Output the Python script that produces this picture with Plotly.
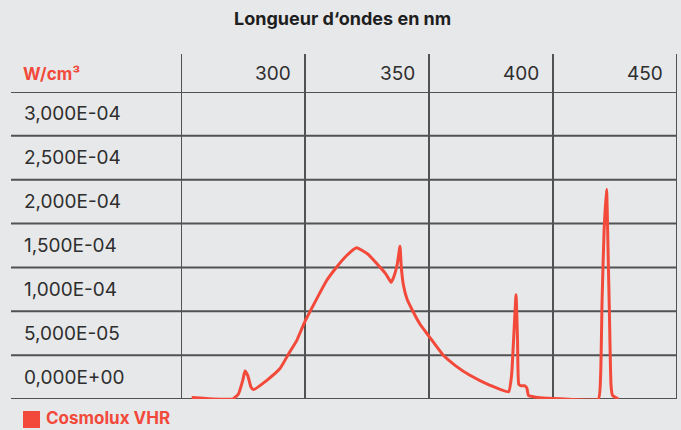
import plotly.graph_objects as go

# ---- data ----
wavelength_nm = [254.3, 262.9, 271.0, 273.1, 274.9, 275.8, 276.9, 278.2, 279.2, 284.6,
                 289.9, 293.3, 296.7, 300.0, 308.8, 312.8, 316.5, 320.8, 325.4, 330.2,
                 332.7, 334.7, 335.9, 337.2, 338.3, 338.8, 339.7, 341.1, 343.5, 346.4,
                 350.0, 355.8, 360.5, 366.5, 374.6, 382.1, 383.3, 384.3, 385.1, 385.7,
                 386.2, 387.1, 388.7, 389.5, 390.1, 394.8, 402.8, 418.3, 419.2, 419.8,
                 420.6, 421.6, 422.2, 422.8, 423.4, 424.0, 426.4]
irradiance = [1.6e-6, 0.0, 0.2e-6, 5.4e-6, 21.3e-6, 31.9e-6, 27.0e-6, 13.7e-6, 10.7e-6, 21.3e-6,
              34.7e-6, 51.0e-6, 66.9e-6, 88.6e-6, 135.3e-6, 150.5e-6, 162.7e-6, 172.4e-6, 165.0e-6, 150.5e-6,
              142.2e-6, 133.0e-6, 140.0e-6, 153.6e-6, 174.1e-6, 151.3e-6, 129.6e-6, 114.2e-6, 100.0e-6, 85.2e-6,
              71.5e-6, 49.8e-6, 38.4e-6, 27.0e-6, 15.6e-6, 8.2e-6, 27.0e-6, 78.3e-6, 118.8e-6, 67.0e-6,
              16.8e-6, 15.0e-6, 15.0e-6, 12.2e-6, 4.2e-6, 1.4e-6, 0.2e-6, 0.0, 27.0e-6, 112.5e-6,
              192.3e-6, 239.0e-6, 169.5e-6, 89.7e-6, 15.6e-6, 4.2e-6, 0.0]

x_grid = [250, 300, 350, 400, 450]
x_tick_labels = ["300", "350", "400", "450"]
x_tick_values = [300, 350, 400, 450]
y_grid = [0, 5e-5, 1e-4, 1.5e-4, 2e-4, 2.5e-4, 3e-4, 3.5e-4]
y_tick_values = [3e-4, 2.5e-4, 2e-4, 1.5e-4, 1e-4, 5e-5, 0]
y_tick_labels = ["3,000E-04", "2,500E-04", "2,000E-04", "1,500E-04",
                 "1,000E-04", "5,000E-05", "0,000E+00"]
series_name = "Cosmolux VHR"
title_text = "Longueur d‘ondes en nm"
unit_text = "W/cm³"

# ---- style ----
BG = "#e7e8ea"
GRID = "#525252"
RED = "#f2493a"
TXT = "#2e2e2e"
FONT = "Inter"

W, H = 681, 430
ML, MR, MT, MB = 181, 4, 92, 31
PW = W - ML - MR
PH = H - MT - MB

def px_x(p):  # pixel -> paper x
    return (p - ML) / PW

def px_y(p):  # pixel -> paper y
    return (H - MB - p) / PH

fig = go.Figure()
fig.add_trace(go.Scatter(
    x=wavelength_nm, y=irradiance, mode="lines",
    line=dict(color=RED, width=3, shape="spline", smoothing=0.4),
    hoverinfo="skip", showlegend=False,
))

shapes = []
for v in y_grid:
    shapes.append(dict(type="line", xref="paper", yref="y", x0=px_x(11), x1=1.0,
                       y0=v, y1=v, line=dict(color=GRID, width=2), layer="below"))
for v in x_grid:
    shapes.append(dict(type="line", xref="x", yref="paper", x0=v, x1=v,
                       y0=0, y1=px_y(54), line=dict(color=GRID, width=2), layer="below"))

annotations = []
row_h = 5e-5
for v, t in zip(y_tick_values, y_tick_labels):
    annotations.append(dict(text=t, xref="paper", yref="y", x=px_x(22), y=v + row_h / 2,
                            xanchor="left", yanchor="middle", showarrow=False,
                            font=dict(family=FONT, size=19, color=TXT)))
for v, t in zip(x_tick_values, x_tick_labels):
    annotations.append(dict(text=t, xref="x", yref="paper", x=v, xshift=-12, y=px_y(73),
                            xanchor="right", yanchor="middle", showarrow=False,
                            font=dict(family=FONT, size=19, color=TXT)))
annotations.append(dict(text="<b>" + unit_text + "</b>", xref="paper", yref="paper",
                        x=px_x(21), y=px_y(74), xanchor="left", yanchor="middle",
                        showarrow=False, font=dict(family=FONT, size=17, color=RED)))
annotations.append(dict(text="<b>" + title_text + "</b>", xref="paper", yref="paper",
                        x=px_x(342), y=px_y(19), xanchor="center", yanchor="middle",
                        showarrow=False, font=dict(family=FONT, size=18, color="#1e1e1e")))
shapes.append(dict(type="rect", xref="paper", yref="paper", x0=px_x(23), x1=px_x(40),
                   y0=px_y(428), y1=px_y(411), fillcolor=RED, line=dict(width=0)))
annotations.append(dict(text="<b>" + series_name + "</b>", xref="paper", yref="paper",
                        x=px_x(45), y=px_y(418), xanchor="left", yanchor="middle",
                        showarrow=False, borderpad=0,
                        font=dict(family=FONT, size=17, color=RED)))

fig.update_layout(
    width=W, height=H,
    margin=dict(l=ML, r=MR, t=MT, b=MB, pad=0),
    paper_bgcolor=BG, plot_bgcolor=BG,
    xaxis=dict(range=[250, 450], showgrid=False, zeroline=False, showticklabels=False,
               showline=False, fixedrange=True),
    yaxis=dict(range=[0, 3.5e-4], showgrid=False, zeroline=False, showticklabels=False,
               showline=False, fixedrange=True),
    shapes=shapes, annotations=annotations,
)

fig.write_html("out.html", config={"displayModeBar": False},
               post_script="document.body.style.margin='0';document.body.style.overflow='hidden';"
                           "document.body.style.background='" + BG + "';")
